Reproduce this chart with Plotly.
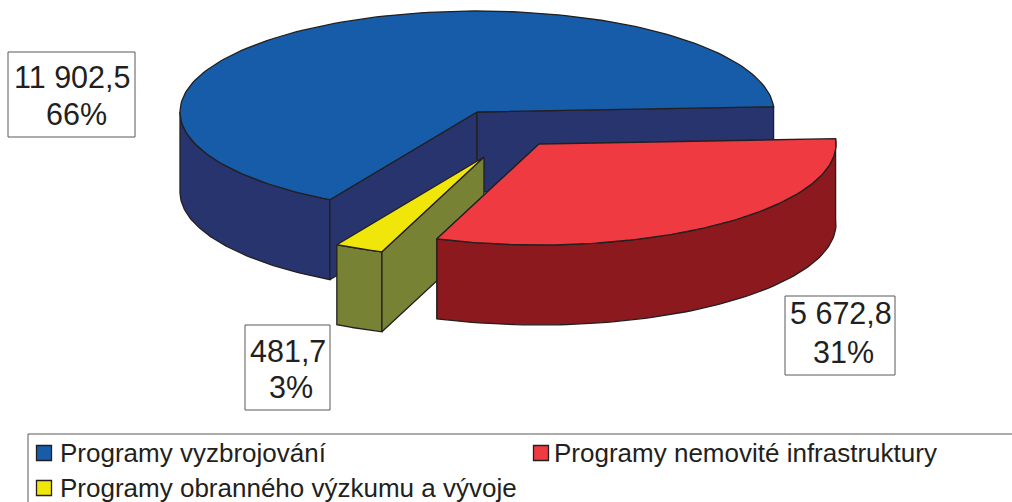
import math
import plotly.graph_objects as go

labels = ["Programy vyzbrojování", "Programy nemovité infrastruktury", "Programy obranného výzkumu a vývoje"]
values = [11902.5, 5672.8, 481.7]
value_text = ["11 902,5", "5 672,8", "481,7"]
pct_text = ["66%", "31%", "3%"]

top_colors = ["#165ca9", "#f03a41", "#f0e60a"]
side_colors = ["#27346e", "#8b191e", "#788234"]
edge = "#231f20"
box_line = "#58595b"

RX, RY, DEPTH = 297, 101, 80
START = 3
# where each slice's apex sits in the picture, exploded slices are shifted
apex = {0: (477, 112), 1: (539, 144), 2: (484, 157)}

# label boxes: x0, y0, x1, y1, then the centre of each text line
boxes = [
    (8, 52, 135, 137, (72, 77), (76, 114)),
    (785, 296, 895, 375, (841, 313), (843, 352)),
    (245, 325, 330, 410, (288, 351), (291, 387)),
]
# legend keys: x of key, y of key, x where the text starts
keys = [(44, 453, 58), (541, 453, 552), (44, 488, 58)]

total = sum(values)
spans = {}
angle = START
for i in [0, 2, 1]:
    spans[i] = (angle, angle + values[i] / total * 360)
    angle = spans[i][1]


def rim(i, a):
    t = math.radians(a)
    return apex[i][0] + RX * math.cos(t), apex[i][1] - RY * math.sin(t)


def poly(fig, xs, ys, color):
    fig.add_trace(go.Scatter(x=xs, y=ys, mode="lines", fill="toself", fillcolor=color,
                             line=dict(color=edge, width=1.3), hoverinfo="skip", showlegend=False))


def side(fig, i):
    # outer wall, only the part facing the viewer (bottom half of the ellipse)
    a0, a1 = spans[i]
    lo, hi = max(a0, 180), a1
    n = 80
    rim_pts = [rim(i, lo + (hi - lo) * k / n) for k in range(n + 1)]
    xs = [p[0] for p in rim_pts] + [p[0] for p in reversed(rim_pts)]
    ys = [p[1] for p in rim_pts] + [p[1] + DEPTH for p in reversed(rim_pts)]
    poly(fig, xs + xs[:1], ys + ys[:1], side_colors[i])


def cut(fig, i, a):
    # flat cut face from the apex to the rim at angle a
    x0, y0 = apex[i]
    x1, y1 = rim(i, a)
    poly(fig, [x0, x1, x1, x0, x0], [y0, y1, y1 + DEPTH, y0 + DEPTH, y0], side_colors[i])


def top(fig, i):
    a0, a1 = spans[i]
    n = 160
    pts = [rim(i, a0 + (a1 - a0) * k / n) for k in range(n + 1)]
    x0, y0 = apex[i]
    poly(fig, [x0] + [p[0] for p in pts] + [x0], [y0] + [p[1] for p in pts] + [y0], top_colors[i])


fig = go.Figure()

# blue slice
side(fig, 0)
cut(fig, 0, spans[0][1])
cut(fig, 0, spans[0][0])
top(fig, 0)
# yellow slice
side(fig, 2)
cut(fig, 2, spans[2][1])
top(fig, 2)
# red slice
cut(fig, 1, spans[1][0])
side(fig, 1)
top(fig, 1)

font = dict(family="Liberation Sans, Arial, sans-serif", size=30.5, color="#231f20")
legend_font = dict(family="Liberation Sans, Arial, sans-serif", size=26, color="#231f20")

for i, (x0, y0, x1, y1, line1, line2) in enumerate(boxes):
    fig.add_shape(type="rect", x0=x0, y0=y0, x1=x1, y1=y1, layer="below",
                  line=dict(color=box_line, width=1), fillcolor="white")
    fig.add_annotation(x=line1[0], y=line1[1], text=value_text[i], showarrow=False, font=font)
    fig.add_annotation(x=line2[0], y=line2[1], text=pct_text[i], showarrow=False, font=font)

# legend, drawn by hand because its box runs off the page
fig.add_shape(type="rect", x0=28, y0=434, x1=1030, y1=520, layer="below",
              line=dict(color=box_line, width=1), fillcolor="white")
for i, (kx, ky, tx) in enumerate(keys):
    fig.add_trace(go.Scatter(x=[kx], y=[ky], mode="markers", hoverinfo="skip", showlegend=False,
                             marker=dict(symbol="square", size=15, color=top_colors[i],
                                         line=dict(color=edge, width=1.3))))
    fig.add_annotation(x=tx, y=ky, text=labels[i], showarrow=False, xanchor="left", font=legend_font)

fig.update_xaxes(visible=False, range=[0, 1012], fixedrange=True)
fig.update_yaxes(visible=False, range=[502, 0], fixedrange=True)
fig.update_layout(
    width=1012, height=502, margin=dict(l=0, r=0, t=0, b=0),
    paper_bgcolor="white", plot_bgcolor="white",
    showlegend=False,
)

fig.write_html("out.html", config={"displayModeBar": False}, post_script="document.body.style.margin='0'")
